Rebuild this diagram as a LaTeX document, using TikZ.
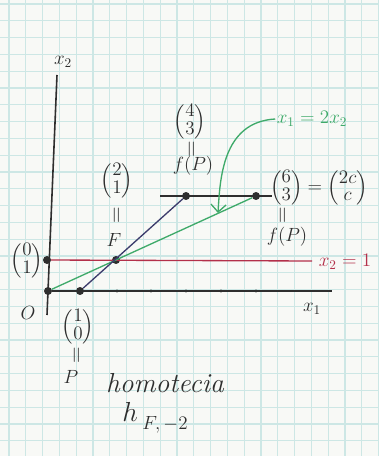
\documentclass[tikz,border=0pt]{standalone}
\usepackage{amsmath}
\usetikzlibrary{arrows.meta,positioning,calc}
\definecolor{gridc}{HTML}{CDE7E5}
\definecolor{paper}{HTML}{F8F9F6}
\definecolor{ink}{HTML}{2E2E2E}
\definecolor{redl}{HTML}{B3304A}
\definecolor{greenl}{HTML}{3FAA6A}
\definecolor{bluel}{HTML}{3C3C6C}
\newcommand{\cvec}[2]{{\renewcommand{\arraystretch}{0.7}\left(\begin{array}{@{}c@{}}#1\\#2\end{array}\right)}}
\tikzset{
  pt/.style={circle, fill=ink, inner sep=0pt, minimum size=6pt},
  tickpt/.style={circle, fill=ink, inner sep=0pt, minimum size=2.5pt},
  lbl/.style={font=\Large, text=ink, inner sep=1pt},
  eqv/.style={font=\LARGE, text=ink, inner sep=0pt, rotate=90},
  axis/.style={line width=1.2pt, draw=ink},
  seg/.style={line width=1pt, draw=#1},
}

\begin{document}
\begin{tikzpicture}[x=0.0265cm, y=-0.0265cm]
  \useasboundingbox (0,0) rectangle (378,456);
  % graph paper
  \fill[paper] (0,0) rectangle (378,456);
  \foreach \k in {0,...,22} {
    \draw[gridc, line width=0.9pt] (9+16.8*\k,0) -- (9+16.8*\k,456);
  }
  \foreach \k in {0,...,27} {
    \draw[gridc, line width=0.9pt] (0,4+16.8*\k) -- (378,4+16.8*\k);
  }

  % points
  \node[pt] (O) at (48,291) {};
  \node[pt] (P) at (80,291) {};
  \node[pt] (E) at (47,260) {};
  \node[pt] (F) at (116,260) {};
  \node[pt] (hP) at (186,196) {};
  \node[pt] (fP) at (256,196) {};
  \coordinate (ytop) at (57,75);
  \coordinate (ybot) at (47,315);
  \coordinate (xend) at (332,291);
  \coordinate (rend) at (312,261);
  \coordinate (hl) at (160,196);
  \coordinate (hr) at (272,196);

  % axes and lines
  \draw[axis] (ytop) -- (ybot);
  \draw[axis, line width=0.8pt] (O) -- (xend);
  \foreach \x in {117,151,186,221,256} {
    \node[tickpt] (t\x) at (\x,291) {};
  }
  \draw[seg=redl] (E) -- (rend);
  \draw[seg=greenl] (O) -- (fP);
  \draw[seg=bluel] (P) -- (hP);
  \draw[seg=ink] (hl) -- (hr);

  % labels
  \node[lbl] (x2lab) at (63,62) {$x_2$};
  \node[lbl] (x1lab) at (312,309) {$x_1$};
  \node[lbl] (Olab) at (28,313) {$O$};
  \node[lbl] (Elab) at (27,261) {$\cvec{0}{1}$};
  \node[lbl] (Flab) at (114,240) {$F$};
  \node[eqv] (Feq) at (118,215) {$=$};
  \node[lbl] (Fvec) at (117,181) {$\cvec{2}{1}$};
  \node[lbl] (hPvec) at (190,122) {$\cvec{4}{3}$};
  \node[eqv] (hPeq) at (193,149) {$=$};
  \node[lbl] (hPlab) at (193,166) {$f(P)$};
  \node[lbl] (fPvec) at (319,188) {$\cvec{6}{3}=\cvec{2c}{c}$};
  \node[eqv] (fPeq) at (284,215) {$=$};
  \node[lbl] (fPlab) at (287,237) {$f(P)$};
  \node[lbl, text=redl] (rlab) at (345,262) {$x_2=1$};
  \node[lbl] (Pvec) at (78,327) {$\cvec{1}{0}$};
  \node[eqv] (Peq) at (78,355) {$=$};
  \node[lbl] (Plab) at (71,377) {$P$};
  \node[lbl, text=greenl] (glab) at (312,119) {$x_1=2x_2$};
  \node[lbl, font=\huge] (homo) at (165,383) {\itshape homotecia};
  \node[lbl, font=\huge] (hname) at (155,418) {$h$\,\raisebox{-6pt}{\Large$F,-2$}};

  % green arrow
  \coordinate (gtip) at (218,213);
  \draw[seg=greenl, -{Straight Barb[length=2mm]}] (glab.west) .. controls (222,122) and (220,180) .. (gtip);
\end{tikzpicture}
\end{document}
